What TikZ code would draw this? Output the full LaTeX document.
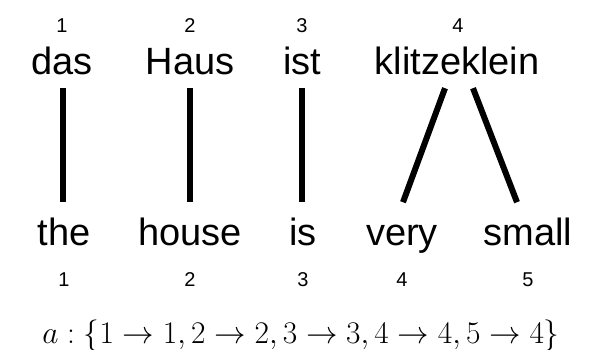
\documentclass[tikz,border=0pt]{standalone}
\usepackage{graphicx}
\usepackage{fontspec}
\setmainfont{Liberation Sans}
\begin{document}
\begin{tikzpicture}[x=1pt,y=-1pt,
  word/.style={anchor=base,inner sep=0pt,text depth=0pt,font=\fontsize{38}{44}\selectfont},
  num/.style={anchor=base,inner sep=0pt,font=\fontsize{20}{24}\selectfont},
  bar/.style={line width=6pt}]
\useasboundingbox (0,0) rectangle (595,350);
% top numbers
\node[num] (n1) at (62,33) {1};
\node[num] (n2) at (190,33) {2};
\node[num] (n3) at (302,33) {3};
\node[num] (n4) at (458,33) {4};
% top words
\node[word] (t1) at (62,75) {das};
\node[word] (t2) at (190,75) {Haus};
\node[word] (t3) at (302,75) {ist};
\node[word] (t4) at (457,75) {klitzeklein};
% bottom words
\node[word] (b1) at (64,245) {the};
\node[word] (b2) at (190,245) {house};
\node[word] (b3) at (303,245) {is};
\node[word] (b4) at (402,245) {very};
\node[word] (b5) at (528,245) {small};
% bottom numbers
\node[num] (m1) at (64,286) {1};
\node[num] (m2) at (190,286) {2};
\node[num] (m3) at (303,286) {3};
\node[num] (m4) at (402,286) {4};
\node[num] (m5) at (528,286) {5};
% alignment links
\draw[bar] ([xshift=1pt,yshift=-13pt]t1.south) -- ([xshift=-1pt,yshift=43pt]b1.south);
\draw[bar] ([yshift=-13pt]t2.south) -- ([yshift=43pt]b2.south);
\draw[bar] ([yshift=-13pt]t3.south) -- ([xshift=-1pt,yshift=43pt]b3.south);
\draw[bar] ([xshift=-12pt,yshift=-13pt]t4.south) -- ([xshift=1pt,yshift=43pt]b4.south);
\draw[bar] ([xshift=16pt,yshift=-13pt]t4.south) -- ([xshift=-11pt,yshift=43pt]b5.south);
% formula
\node[anchor=base,inner sep=0pt,font=\fontsize{24.88}{30}\selectfont] (f) at (301,343)
  {\scalebox{1.265}{$a:\{1\rightarrow 1,2\rightarrow 2,3\rightarrow 3,4\rightarrow 4,5\rightarrow 4\}$}};
\end{tikzpicture}
\end{document}
